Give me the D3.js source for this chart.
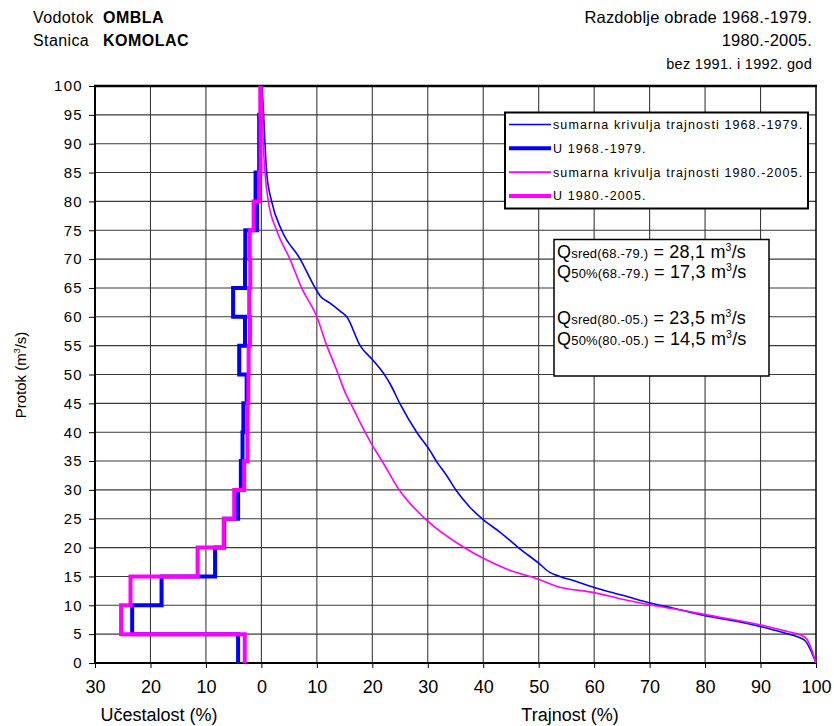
<!DOCTYPE html>
<html>
<head>
<meta charset="utf-8">
<script src="https://cdn.jsdelivr.net/npm/d3@7"></script>
<style>
  html, body { margin: 0; padding: 0; background: #fff; }
  svg { display: block; font-family: "Liberation Sans", Arial, sans-serif; }
</style>
</head>
<body>
<svg id="chart" width="834" height="726"></svg>
<script>
// Flow classes (m³/s): lower bound of each 5 m³/s class, 0–95
const classLow = d3.range(0, 100, 5);

// Class frequency (%) per flow class, 1968.-1979.
const freq6879 = [4.2, 23.3, 18.0, 8.35, 6.7, 4.2, 3.7, 3.4, 3.25, 2.65,
                  4.0, 2.95, 5.1, 2.95, 2.9, 0.8, 1.05, 0.4, 0.4, 0.05];
// Class frequency (%) per flow class, 1980.-2005.
const freq8005 = [3.0, 25.3, 23.6, 11.5, 6.8, 4.9, 3.1, 2.5, 2.5, 2.35,
                  2.3, 2.05, 2.2, 2.0, 2.1, 1.4, 0.4, 0.15, 0.15, 0.2];

// Flow duration curve 1968.-1979.: duration (%) and flow (m³/s)
const dur6879 = [0.1, 0.4, 0.65, 0.95, 1.85, 3.65, 7.0, 9.7, 10.6, 12.5, 14.2, 15.4, 17.8, 20.2,
                 22.3, 23.2, 25.0, 28.0, 30.4, 31.6, 33.4, 35.2, 37.6, 40.1, 43.0, 46.6, 50.0,
                 52.0, 53.8, 56.2, 60.0, 65.3, 70.5, 74.3, 80.5, 86.3, 90.5, 94.7, 96.5, 98.0, 100];
const q6879   = [100, 95, 90, 85, 80, 75, 70, 65, 63.6, 62.3, 61, 60, 55, 52.4,
                 49.8, 48.4, 44.9, 40, 36.8, 34.9, 32.5, 29.8, 27.0, 24.75, 22.7, 19.8, 17.3,
                 15.7, 15.0, 14.3, 13.1, 11.7, 10.3, 9.5, 8.1, 7.1, 6.2, 5.1, 4.6, 3.9, 0];

// Flow duration curve 1980.-2005.
const dur8005 = [0.05, 0.2, 0.35, 0.65, 1.25, 2.75, 5.15, 7.25, 10.0, 11.8, 13.6, 15.1, 16.3,
                 18.7, 20.2, 21.7, 25.0, 29.8, 36.4, 40.1, 44.2, 50.0, 53.2, 60.0, 65.3, 70.5,
                 74.3, 80.5, 90.5, 94.7, 97.1, 98.3, 100];
const q8005   = [100, 95, 90, 85, 80, 75, 70, 65, 60, 55, 50.7, 46.9, 44.6,
                 40, 37.4, 35.1, 29.8, 24.75, 20.1, 18.1, 16.3, 14.5, 13.3, 12.2, 11.0, 10.0,
                 9.4, 8.3, 6.5, 5.5, 4.9, 4.2, 0];

const xTicks = d3.range(-30, 101, 10);
const yTicks = d3.range(0, 101, 5);

const legendLabels = [
  "sumarna krivulja trajnosti 1968.-1979.",
  "U  1968.-1979.",
  "sumarna krivulja trajnosti 1980.-2005.",
  "U  1980.-2005."
];
const statPeriods = ["(68.-79.)", "(68.-79.)", "(80.-05.)", "(80.-05.)"];
const statKinds = ["sred", "50%", "sred", "50%"];
const statValues = ["28,1", "17,3", "23,5", "14,5"];

const BLUE = "#0000ff", MAGENTA = "#ff00ff";

const svg = d3.select("#chart");
const mLeft = 95, mRight = 816, mTop = 86, mBottom = 663;
const x = d3.scaleLinear().domain([-30, 100]).range([mLeft, mRight]);
const y = d3.scaleLinear().domain([0, 100]).range([mBottom, mTop]);

// Grid
const grid = svg.append("g");
grid.selectAll("line.v").data(xTicks.filter(d => d > -30 && d < 100)).join("line")
  .attr("class", "v")
  .attr("x1", d => x(d)).attr("x2", d => x(d)).attr("y1", mTop).attr("y2", mBottom)
  .attr("stroke", "#3a3a3a").attr("stroke-width", 1.1);
grid.selectAll("line.h").data(yTicks.filter(d => d > 0 && d < 100)).join("line")
  .attr("class", "h")
  .attr("x1", mLeft).attr("x2", mRight).attr("y1", d => y(d)).attr("y2", d => y(d))
  .attr("stroke", "#3a3a3a").attr("stroke-width", 1.1);

// Axes
const yAxis = d3.axisLeft(y).tickValues(yTicks).tickSize(6).tickPadding(6);
const gy = svg.append("g").attr("transform", `translate(${mLeft},0)`).call(yAxis);
gy.select(".domain").remove();
gy.selectAll(".tick line").attr("stroke", "#000");
gy.selectAll(".tick text").attr("font-size", 15).attr("letter-spacing", 1.3)
  .attr("font-family", "Liberation Sans, Arial, sans-serif").attr("fill", "#000");

const xAxis = d3.axisBottom(x).tickValues(xTicks).tickSize(5).tickPadding(12)
  .tickFormat(d => Math.abs(d));
const gx = svg.append("g").attr("transform", `translate(0,${mBottom})`).call(xAxis);
gx.select(".domain").remove();
gx.selectAll(".tick line").attr("stroke", "#000");
gx.selectAll(".tick text").attr("font-size", 18)
  .attr("font-family", "Liberation Sans, Arial, sans-serif").attr("fill", "#000");

// Frame
svg.append("line").attr("x1", mRight).attr("x2", mRight).attr("y1", mTop).attr("y2", mBottom)
  .attr("stroke", "#000").attr("stroke-width", 1.5);
svg.append("line").attr("x1", mLeft - 1).attr("x2", mRight + 1).attr("y1", mTop).attr("y2", mTop)
  .attr("stroke", "#000").attr("stroke-width", 2.5);
svg.append("line").attr("x1", mLeft - 1).attr("x2", mRight + 1).attr("y1", mBottom).attr("y2", mBottom)
  .attr("stroke", "#000").attr("stroke-width", 2);
svg.append("line").attr("x1", mLeft).attr("x2", mLeft).attr("y1", mTop).attr("y2", mBottom)
  .attr("stroke", "#000").attr("stroke-width", 2);

// Step path of class frequencies, drawn to the left of zero
function stepPoints(freq) {
  const pts = [];
  freq.forEach((f, i) => {
    pts.push([-f, classLow[i]]);
    pts.push([-f, classLow[i] + 5]);
  });
  return pts;
}
const lineXY = d3.line().x(d => x(d[0])).y(d => y(d[1]));
const smooth = d3.line().x(d => x(d[0])).y(d => y(d[1])).curve(d3.curveMonotoneX);

const plot = svg.append("g");
function drawSeries(dur, q, freq, color) {
  plot.append("path").datum(dur.map((d, i) => [d, q[i]]))
    .attr("d", smooth).attr("fill", "none").attr("stroke", color).attr("stroke-width", 1.6);
  plot.append("path").datum(stepPoints(freq))
    .attr("d", lineXY).attr("fill", "none").attr("stroke", color)
    .attr("stroke-width", 4).attr("stroke-linejoin", "miter");
}
drawSeries(dur6879, q6879, freq6879, BLUE);
drawSeries(dur8005, q8005, freq8005, MAGENTA);

// Legend
const lg = svg.append("g");
lg.append("rect").attr("x", 505).attr("y", 112.5).attr("width", 303).attr("height", 96)
  .attr("fill", "#fff").attr("stroke", "#000").attr("stroke-width", 2);
const legendColors = [BLUE, BLUE, MAGENTA, MAGENTA];
const legendWidths = [1.6, 4, 1.6, 4];
legendLabels.forEach((t, i) => {
  const yy = 124.5 + i * 23.8;
  lg.append("line").attr("x1", 509).attr("x2", 551).attr("y1", yy).attr("y2", yy)
    .attr("stroke", legendColors[i]).attr("stroke-width", legendWidths[i]);
  lg.append("text").attr("x", 553).attr("y", yy + 4.5).attr("font-size", 12.5)
    .attr("letter-spacing", 1.1).attr("fill", "#000").text(t);
});

// Statistics box
const sb = svg.append("g");
sb.append("rect").attr("x", 554).attr("y", 239.5).attr("width", 215).attr("height", 136.5)
  .attr("fill", "#fff").attr("stroke", "#000").attr("stroke-width", 1.5);
const statY = [257.5, 278, 324, 344.5];
statKinds.forEach((k, i) => {
  const t = sb.append("text").attr("x", 557).attr("y", statY[i]).attr("fill", "#000")
    .attr("letter-spacing", 0.2);
  t.append("tspan").attr("font-size", 18).text("Q");
  t.append("tspan").attr("font-size", 13).text(k + statPeriods[i]);
  t.append("tspan").attr("font-size", 18).text(" = " + statValues[i] + " m");
  t.append("tspan").attr("font-size", 10.5).attr("dy", -7).text("3");
  t.append("tspan").attr("font-size", 18).attr("dy", 7).text("/s");
});

// Headings
const hd = svg.append("g").attr("fill", "#000");
hd.append("text").attr("x", 33).attr("y", 22.5).attr("font-size", 16).attr("letter-spacing", 0.4).text("Vodotok");
hd.append("text").attr("x", 103).attr("y", 22.5).attr("font-size", 16).attr("letter-spacing", 0.5).attr("font-weight", "bold").text("OMBLA");
hd.append("text").attr("x", 33).attr("y", 45.5).attr("font-size", 16).attr("letter-spacing", 0.4).text("Stanica");
hd.append("text").attr("x", 103).attr("y", 45.5).attr("font-size", 16).attr("letter-spacing", 0.5).attr("font-weight", "bold").text("KOMOLAC");
hd.append("text").attr("x", 812).attr("y", 22.5).attr("font-size", 16.5).attr("letter-spacing", 0.2).attr("text-anchor", "end").text("Razdoblje obrade 1968.-1979.");
hd.append("text").attr("x", 812).attr("y", 45.5).attr("font-size", 16.5).attr("letter-spacing", 0.2).attr("text-anchor", "end").text("1980.-2005.");
hd.append("text").attr("x", 812).attr("y", 68.5).attr("font-size", 14.5).attr("letter-spacing", 0.3).attr("text-anchor", "end").text("bez 1991. i 1992. god");

// Axis titles
hd.append("text").attr("x", 159).attr("y", 721).attr("font-size", 18).attr("text-anchor", "middle").text("Učestalost (%)");
hd.append("text").attr("x", 570).attr("y", 721).attr("font-size", 18).attr("text-anchor", "middle").text("Trajnost (%)");
const yt = hd.append("text").attr("transform", "translate(26,375) rotate(-90)")
  .attr("font-size", 15).attr("text-anchor", "middle");
yt.append("tspan").text("Protok (m");
yt.append("tspan").attr("font-size", 9).attr("dy", -6).text("3");
yt.append("tspan").attr("dy", 6).text("/s)");
</script>
</body>
</html>
